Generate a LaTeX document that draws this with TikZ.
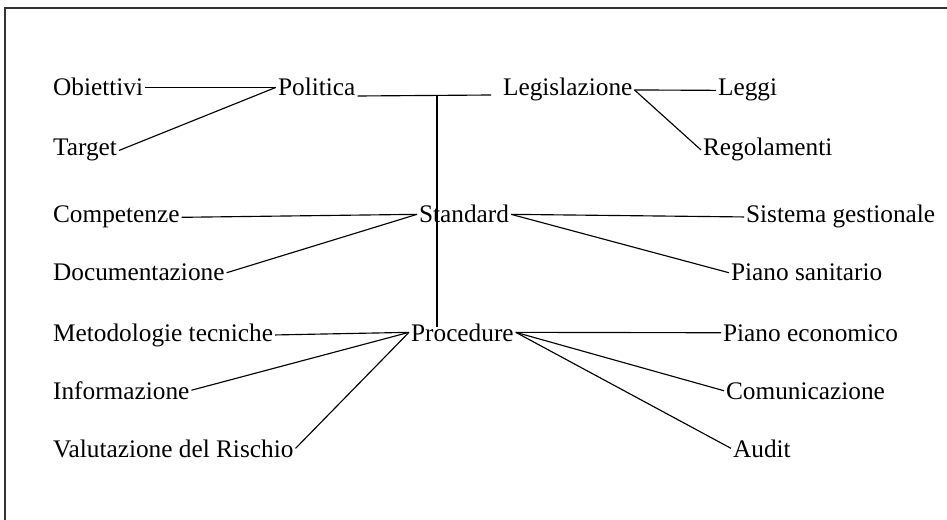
\documentclass[tikz,border=0pt]{standalone}
\usepackage{fontspec}
\setmainfont{Liberation Serif}
\usepackage{tikz}

\tikzset{
  item/.style={anchor=base west, inner sep=1pt, font=\fontsize{14.4}{17}\selectfont},
  link/.style={line width=0.65pt}
}

\begin{document}
\begin{tikzpicture}[x=0.02cm, y=-0.02cm]
    % Frame
    \useasboundingbox (0,0) rectangle (947,520);
    \draw[line width=0.9pt, black!80] (5,520) -- (5,8) -- (947,8);

    % Top row
    \node[item] (obiettivi) at (51,96) {Obiettivi};
    \node[item] (target) at (51,156) {Target};
    \node[item] (politica) at (276,96) {Politica};
    \node[item] (legislazione) at (501,96) {Legislazione};
    \node[item] (leggi) at (716,96) {Leggi};
    \node[item] (regolamenti) at (701,156) {Regolamenti};

    % Middle row
    \node[item] (competenze) at (51,223) {Competenze};
    \node[item] (documentazione) at (51,281) {Documentazione};
    \node[item] (standard) at (417,223) {Standard};
    \node[item] (sistema) at (744,223) {Sistema gestionale};
    \node[item] (sanitario) at (729,281) {Piano sanitario};

    % Bottom row
    \node[item] (metodologie) at (51,341) {Metodologie tecniche};
    \node[item] (informazione) at (51,399) {Informazione};
    \node[item] (valutazione) at (51,457) {Valutazione del Rischio};
    \node[item] (procedure) at (409,341) {Procedure};
    \node[item] (economico) at (721,341) {Piano economico};
    \node[item] (comunicazione) at (724,399) {Comunicazione};
    \node[item] (audit) at (731,457) {Audit};

    % Trunk
    \coordinate (joint) at (437,95);
    \coordinate (legend) at (491,95);
    \coordinate (stemend) at (437,327);
    \draw[link] (politica.base east) -- (legend);
    \draw[link] (joint) -- (stemend);

    % Branches
    \draw[link] (obiettivi.east) -- (politica.west);
    \draw[link] (target.east) -- (politica.west);
    \draw[link] (legislazione.east) -- (leggi.west);
    \draw[link] (legislazione.east) -- (regolamenti.west);

    \draw[link] (competenze.east) -- (standard.west);
    \draw[link] (documentazione.east) -- (standard.west);
    \draw[link] (standard.east) -- (sistema.west);
    \draw[link] (standard.east) -- (sanitario.west);

    \draw[link] (metodologie.east) -- (procedure.west);
    \draw[link] (informazione.east) -- (procedure.west);
    \draw[link] (valutazione.east) -- (procedure.west);
    \draw[link] (procedure.east) -- (economico.west);
    \draw[link] (procedure.east) -- (comunicazione.west);
    \draw[link] (procedure.east) -- (audit.west);
\end{tikzpicture}
\end{document}
